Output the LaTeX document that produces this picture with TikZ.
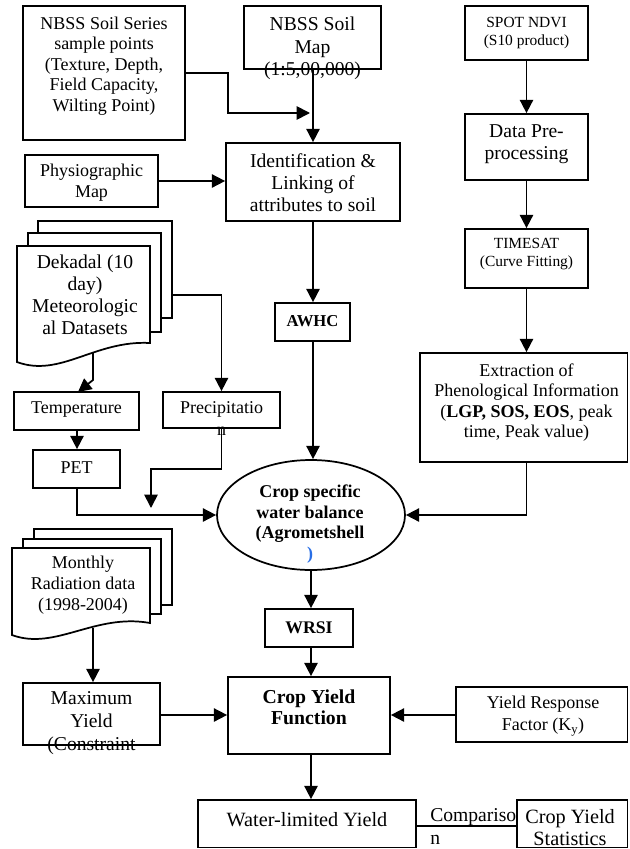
\documentclass[tikz,border=0pt]{standalone}
\usepackage{fontspec}
\setmainfont{Liberation Serif}
\usetikzlibrary{arrows.meta,shapes.geometric,fit}
\definecolor{parenblue}{RGB}{40,110,230}
\begin{document}
\begin{tikzpicture}[x=0.75pt,y=-0.75pt,
  box/.style={draw, line width=1.3pt, inner sep=0pt, rectangle},
  txt/.style={inner sep=0pt, align=center, font=\fontsize{13.5}{16}\selectfont},
  ltxt/.style={inner sep=0pt, align=center, font=\fontsize{14.7}{16.5}\selectfont},
  ttxt/.style={inner sep=0pt, align=center, font=\fontsize{13.5}{15.3}\selectfont},
  stxt/.style={inner sep=0pt, align=center, font=\fontsize{11.6}{14}\selectfont},
  btxt/.style={inner sep=0pt, align=center, font=\fontsize{13.5}{15.3}\selectfont\bfseries},
  conn/.style={line width=1.3pt},
  arr/.style={conn, -{Triangle[length=10pt,width=10pt]}},
  page/.style={line width=1.3pt, fill=white}
]
\useasboundingbox (0,0) rectangle (629,849);

% ---------- boxes ----------
\node[box, fit={(23,6) (185,140)}] (soilser) {};
\node[box, fit={(244,6) (381,69)}] (soilmap) {};
\node[box, fit={(25,155) (158,207)}] (physio) {};
\node[box, fit={(226,143) (400,221)}] (ident) {};
\node[box, fit={(465,6) (588,60)}] (spot) {};
\node[box, fit={(465,114) (588,180)}] (dpp) {};
\node[box, fit={(465,229) (588,288)}] (timesat) {};
\node[box, fit={(420,353) (627.5,462)}] (extract) {};
\node[box, fit={(275,303) (350,341)}] (awhc) {};
\node[box, fit={(14,392) (139,430)}] (temp) {};
\node[box, fit={(163,392) (280,428)}] (precip) {};
\node[box, fit={(33,450) (120,488)}] (pet) {};
\node[box, fit={(265,609) (353,647)}] (wrsi) {};
\node[box, fit={(23,683) (160,745)}] (maxy) {};
\node[box, fit={(228,677) (390,754)}] (cyf) {};
\node[box, fit={(456,687) (627.5,742)}] (yrf) {};
\node[box, fit={(198,800) (416,847.5)}] (wly) {};
\node[box, fit={(517,800) (627.5,847.5)}] (cys) {};
\node[draw, ellipse, line width=1.3pt, inner sep=0pt, minimum width=141pt, minimum height=82.5pt] (wb) at (311,515) {};

% ---------- multi-document shapes ----------
\draw[page] (38,233) -- (38,221) -- (172,221) -- (172,318) -- (161,318);
\draw[page] (28,246) -- (28,233) -- (161,233) -- (161,332) -- (150,332);
\draw[page] (17,362) -- (17,246) -- (150,246) -- (150,343) .. controls (95,340) and (60,378) .. (17,362) -- cycle;
\coordinate (dekR) at (172,295);
\coordinate (dekB) at (93,353);
\coordinate (dekK) at (93,380);
\coordinate (dekT) at (78,392);

\draw[page] (34,539) -- (34,529) -- (172,529) -- (172,605) -- (161,605);
\draw[page] (23,548) -- (23,539) -- (161,539) -- (161,614) -- (150,614);
\draw[page] (12,635) -- (12,548) -- (150,548) -- (150,623) .. controls (95,613) and (55,651) .. (12,635) -- cycle;
\coordinate (monB) at (93,628);

% ---------- texts ----------
\node[ttxt] (tsoilser) at (104,66) {NBSS Soil Series\\sample points\\(Texture, Depth,\\Field Capacity,\\Wilting Point)};
\node[ltxt, font=\fontsize{14.7}{16.8}\selectfont] (tsoilmap) at (312.5,48.5) {NBSS Soil\\Map\\(1:5,00,000)};
\node[txt] (tphysio) at (91.5,182.5) {Physiographic\\Map};
\node[ltxt] (tident) at (313,183) {Identification \&\\Linking of\\attributes to soil};
\node[stxt] (tspot) at (526.5,33) {SPOT NDVI\\(S10 product)};
\node[ltxt] (tdpp) at (526.5,144) {Data Pre-\\processing};
\node[stxt] (ttimesat) at (526.5,254) {TIMESAT\\(Curve Fitting)};
\node[btxt, font=\fontsize{12.5}{15}\selectfont\bfseries] (tawhc) at (312.5,321) {AWHC};
\node[ttxt] (textract) at (526.5,402.5) {Extraction of\\Phenological Information\\(\textbf{LGP, SOS, EOS}, peak\\time, Peak value)};
\node[ltxt] (tdek) at (85,295) {Dekadal (10\\day)\\Meteorologic\\al Datasets};
\node[txt] (ttemp) at (76.5,410) {Temperature};
\node[txt, font=\fontsize{13.5}{16.5}\selectfont] (tprecip) at (221.5,419) {Precipitatio\\n};
\node[txt] (tpet) at (76.5,468) {PET};
\node[btxt] (twb) at (310,524) {Crop specific\\water balance\\(Agrometshell\\{\color{parenblue})}};
\node[txt] (tmon) at (83,585) {Monthly\\Radiation data\\(1998-2004)};
\node[btxt, font=\fontsize{13.3}{15}\selectfont\bfseries] (twrsi) at (309,628) {WRSI};
\node[ltxt, font=\fontsize{14.7}{17}\selectfont] (tmaxy) at (91.5,723) {Maximum\\Yield\\(Constraint};
\node[btxt, font=\fontsize{14.8}{16}\selectfont\bfseries] (tcyf) at (309,707.5) {Crop Yield\\Function};
\node[txt] (tyrf) at (543,716) {Yield Response\\Factor (K\textsubscript{y})};
\node[ltxt, font=\fontsize{15.2}{17}\selectfont] (twly) at (307,820) {Water-limited Yield};
\node[ltxt, align=left, anchor=west, font=\fontsize{14.7}{17.5}\selectfont] (tcomp) at (430,826.5) {Compariso\\n};
\node[ltxt, font=\fontsize{15.2}{17}\selectfont] (tcys) at (570,827.5) {Crop Yield\\Statistics};

% ---------- connectors ----------
\draw[arr] (soilser.east |- 0,73) -- (228,73) -- (228,113) -- (310,113);
\draw[arr] (soilmap.south -| ident.north) -- (ident.north);
\draw[arr] (physio.east) -- (physio.east -| ident.west);
\draw[arr] (spot.south) -- (dpp.north);
\draw[arr] (dpp.south) -- (timesat.north);
\draw[arr] (timesat.south) -- (timesat.south |- extract.north);
\draw[arr] (timesat.south |- extract.south) -- (timesat.south |- wb.east) -- (wb.east);
\draw[arr] (ident.south) -- (ident.south |- awhc.north);
\draw[arr] (ident.south |- awhc.south) -- (ident.south |- wb.north);
\draw[arr] (dekR) -- (dekR -| precip.north) -- (precip.north);
\draw[arr] (dekB) -- (dekK) -- (dekT);
\draw[arr] (temp.south -| 77,0) -- (pet.north -| 77,0);
\draw[arr] (pet.south -| 77,0) -- (77,515) -- (wb.west);
\coordinate (precEnd) at (151,508);
\draw[arr] (precip.south) -- (precip.south |- 0,469) -- (151,469) -- (precEnd);
\draw[arr] (wb.south) -- (wb.south |- wrsi.north);
\draw[arr] (wb.south |- wrsi.south) -- (wb.south |- cyf.north);
\draw[arr] (monB) -- (monB |- maxy.north);
\draw[arr] (maxy.east |- 0,715) -- (cyf.west |- 0,715);
\draw[arr] (yrf.west |- 0,715) -- (cyf.east |- 0,715);
\draw[arr] (wb.south |- cyf.south) -- (wb.south |- wly.north);
\draw[conn] (wly.east |- 0,826) -- (cys.west |- 0,826);
\end{tikzpicture}
\end{document}
